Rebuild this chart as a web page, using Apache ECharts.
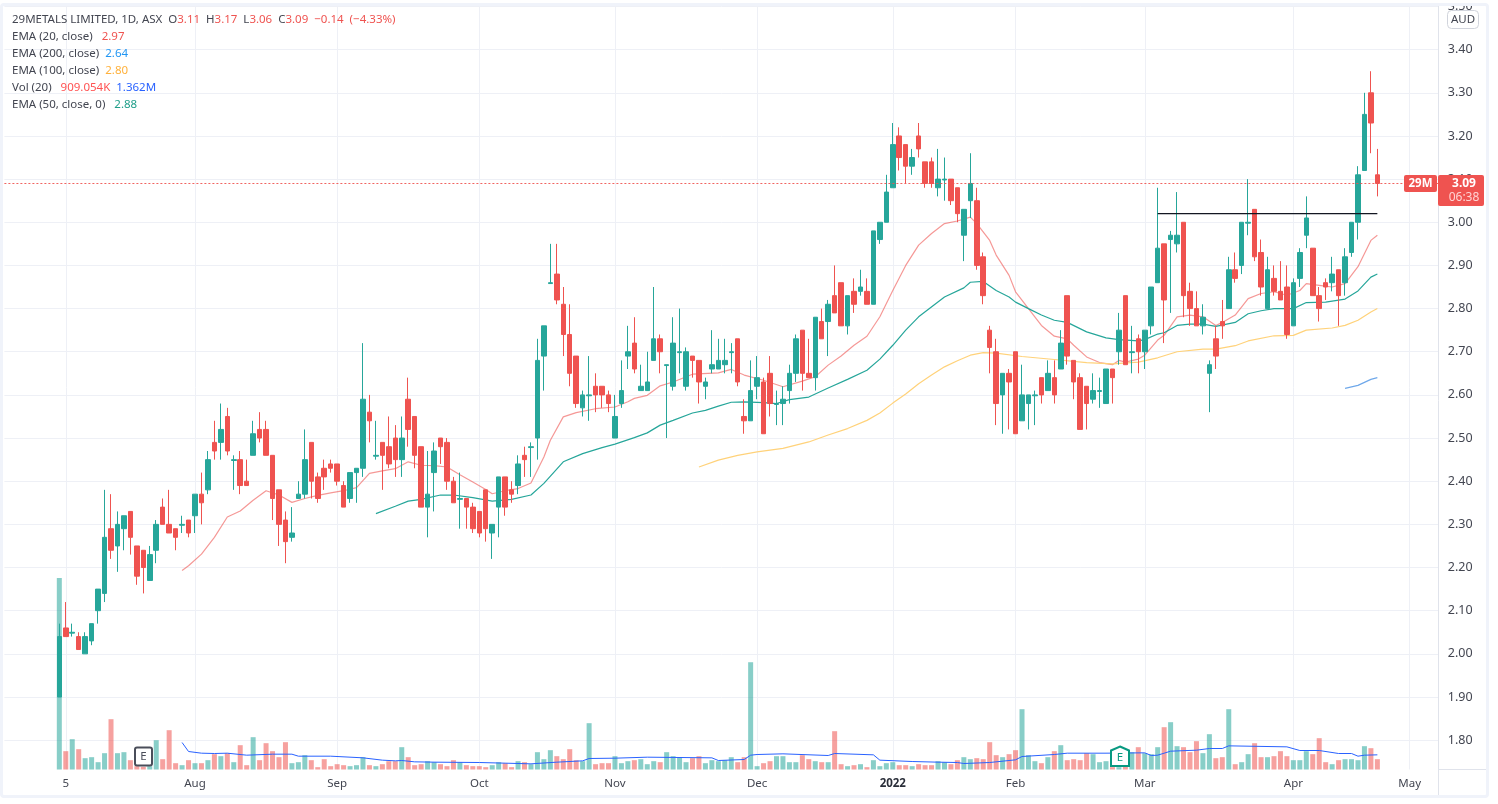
<!DOCTYPE html>
<html>
<head>
<meta charset="utf-8">
<title>29METALS LIMITED</title>
<style>
html,body{margin:0;padding:0;background:#fff;width:1498px;height:804px;overflow:hidden}
#chart{position:absolute;left:0;top:0;width:1498px;height:804px}
#frame{position:absolute;left:0;top:3px;width:1483px;height:789px;border:3px solid #f0f3fa;border-radius:4px;pointer-events:none}
#cover{position:absolute;left:0;top:0;width:1498px;height:3px;background:#fff;pointer-events:none}
</style>
<script src="https://cdn.jsdelivr.net/npm/echarts@6/dist/echarts.min.js"></script>
</head>
<body>
<div id="chart"></div>
<div id="cover"></div>
<div id="frame"></div>
<script>
const opens=[1.90,2.06,2.048,2.04,2.00,2.03,2.10,2.14,2.29,2.25,2.29,2.33,2.25,2.24,2.17,2.24,2.34,2.30,2.29,2.298,2.31,2.32,2.37,2.38,2.49,2.49,2.55,2.448,2.45,2.40,2.46,2.52,2.52,2.46,2.38,2.31,2.27,2.36,2.37,2.49,2.41,2.43,2.44,2.44,2.39,2.36,2.42,2.43,2.56,2.458,2.49,2.48,2.50,2.45,2.59,2.55,2.48,2.34,2.42,2.50,2.49,2.40,2.358,2.36,2.34,2.33,2.38,2.28,2.34,2.41,2.38,2.39,2.46,2.478,2.50,2.69,2.858,2.88,2.81,2.74,2.69,2.57,2.598,2.62,2.62,2.60,2.50,2.58,2.69,2.72,2.61,2.61,2.68,2.73,2.668,2.62,2.698,2.62,2.69,2.68,2.62,2.66,2.66,2.67,2.698,2.73,2.55,2.54,2.62,2.63,2.65,2.578,2.58,2.61,2.65,2.75,2.65,2.64,2.77,2.77,2.83,2.86,2.76,2.84,2.84,2.84,2.81,2.96,3.00,3.08,3.20,3.18,3.13,3.20,3.14,3.14,3.08,3.098,3.10,3.08,2.97,3.05,3.05,2.92,2.75,2.70,2.60,2.65,2.70,2.54,2.58,2.598,2.64,2.61,2.64,2.66,2.83,2.68,2.64,2.62,2.59,2.608,2.58,2.66,2.70,2.83,2.698,2.73,2.70,2.76,2.86,2.95,2.96,2.95,3.00,2.84,2.80,2.76,2.65,2.73,2.77,2.80,2.89,2.90,2.998,3.03,2.93,2.80,2.87,2.84,2.85,2.76,2.87,2.97,2.94,2.83,2.86,2.86,2.89,2.86,2.93,3.00,3.12,3.30,3.11];
const closes=[2.04,2.04,2.05,2.01,2.04,2.07,2.15,2.27,2.24,2.30,2.32,2.27,2.18,2.20,2.23,2.30,2.30,2.28,2.27,2.30,2.28,2.37,2.35,2.45,2.47,2.52,2.47,2.45,2.39,2.39,2.51,2.50,2.46,2.36,2.30,2.26,2.28,2.37,2.45,2.40,2.36,2.41,2.43,2.40,2.34,2.42,2.43,2.59,2.54,2.46,2.46,2.44,2.45,2.50,2.52,2.46,2.34,2.37,2.47,2.48,2.40,2.35,2.36,2.34,2.29,2.28,2.29,2.30,2.41,2.34,2.37,2.44,2.45,2.48,2.68,2.76,2.86,2.82,2.74,2.65,2.58,2.60,2.60,2.60,2.60,2.58,2.55,2.61,2.70,2.66,2.62,2.63,2.73,2.70,2.67,2.72,2.70,2.70,2.68,2.63,2.63,2.67,2.68,2.68,2.70,2.63,2.54,2.61,2.64,2.51,2.58,2.58,2.59,2.65,2.73,2.65,2.64,2.78,2.73,2.81,2.79,2.76,2.83,2.81,2.85,2.81,2.98,3.00,3.07,3.18,3.15,3.13,3.15,3.17,3.09,3.09,3.10,3.10,3.05,3.02,3.03,3.09,2.90,2.83,2.71,2.58,2.65,2.63,2.51,2.60,2.60,2.60,2.60,2.65,2.60,2.72,2.69,2.63,2.52,2.58,2.61,2.61,2.66,2.64,2.75,2.67,2.70,2.70,2.75,2.85,2.94,2.82,2.97,2.97,2.83,2.80,2.76,2.78,2.67,2.69,2.76,2.89,2.87,3.00,3.00,2.92,2.85,2.89,2.84,2.82,2.74,2.86,2.93,3.01,2.83,2.80,2.85,2.88,2.83,2.92,3.00,3.11,3.25,3.23,3.09];
const highs=[2.07,2.12,2.07,2.05,2.05,2.07,2.15,2.38,2.37,2.33,2.32,2.33,2.25,2.24,2.25,2.31,2.36,2.38,2.29,2.32,2.31,2.37,2.42,2.47,2.54,2.58,2.57,2.46,2.47,2.45,2.54,2.56,2.54,2.46,2.38,2.33,2.34,2.40,2.52,2.49,2.42,2.45,2.45,2.44,2.40,2.42,2.43,2.72,2.60,2.54,2.49,2.55,2.53,2.55,2.64,2.55,2.48,2.47,2.49,2.50,2.50,2.41,2.42,2.36,2.35,2.33,2.38,2.30,2.41,2.41,2.40,2.46,2.48,2.49,2.73,2.76,2.95,2.95,2.85,2.81,2.69,2.61,2.69,2.65,2.62,2.61,2.60,2.68,2.76,2.78,2.67,2.70,2.85,2.74,2.67,2.78,2.80,2.71,2.69,2.68,2.64,2.75,2.73,2.73,2.72,2.73,2.59,2.68,2.69,2.64,2.69,2.61,2.62,2.67,2.74,2.75,2.73,2.78,2.80,2.82,2.90,2.86,2.83,2.87,2.89,2.87,2.98,3.00,3.11,3.23,3.22,3.18,3.17,3.23,3.14,3.15,3.17,3.15,3.10,3.08,3.03,3.16,3.08,2.93,2.76,2.73,2.65,2.66,2.70,2.67,2.60,2.61,2.64,2.68,2.68,2.75,2.83,2.68,2.65,2.62,2.65,2.64,2.66,2.66,2.79,2.83,2.76,2.74,2.75,2.85,3.08,2.95,2.98,3.07,3.00,2.86,2.84,2.81,2.68,2.76,2.82,2.92,2.93,3.00,3.10,3.03,2.96,2.92,2.90,2.91,2.90,2.87,2.94,3.06,2.94,2.85,2.87,2.92,2.89,2.94,3.00,3.13,3.30,3.35,3.17];
const lows=[1.90,2.04,2.04,2.01,2.00,2.02,2.07,2.12,2.22,2.19,2.24,2.23,2.16,2.14,2.17,2.21,2.30,2.28,2.24,2.28,2.27,2.28,2.30,2.37,2.45,2.45,2.46,2.38,2.37,2.39,2.46,2.49,2.46,2.31,2.25,2.21,2.26,2.36,2.36,2.36,2.35,2.38,2.42,2.39,2.34,2.35,2.35,2.41,2.49,2.45,2.38,2.43,2.41,2.41,2.48,2.43,2.34,2.27,2.33,2.44,2.38,2.35,2.29,2.29,2.28,2.27,2.26,2.22,2.27,2.32,2.35,2.37,2.41,2.41,2.45,2.61,2.86,2.81,2.69,2.62,2.57,2.55,2.54,2.56,2.57,2.56,2.50,2.57,2.66,2.65,2.61,2.61,2.68,2.65,2.50,2.61,2.65,2.61,2.64,2.58,2.59,2.65,2.66,2.65,2.65,2.62,2.51,2.54,2.59,2.51,2.55,2.53,2.53,2.58,2.63,2.61,2.64,2.61,2.73,2.69,2.79,2.76,2.74,2.79,2.83,2.81,2.81,2.95,3.00,3.08,3.12,3.09,3.11,3.15,3.08,3.08,3.06,3.05,3.04,3.00,2.91,3.01,2.89,2.81,2.65,2.53,2.51,2.52,2.51,2.54,2.52,2.53,2.58,2.61,2.58,2.66,2.67,2.59,2.52,2.52,2.58,2.57,2.58,2.58,2.67,2.67,2.65,2.65,2.66,2.74,2.86,2.72,2.79,2.93,2.78,2.76,2.76,2.74,2.56,2.66,2.73,2.80,2.86,2.88,2.97,2.91,2.83,2.80,2.83,2.82,2.73,2.76,2.85,2.94,2.83,2.77,2.82,2.84,2.76,2.83,2.92,2.96,3.12,3.16,3.06];
// Volume, in lots of about 29.3K shares
const volumeLots=[575,55,91,61,34,37,22,49,151,49,52,28,10,8,10,88,31,118,19,13,28,19,19,28,46,40,49,22,73,13,97,28,79,55,37,82,19,22,43,28,7,31,10,16,13,10,13,37,13,10,16,25,25,67,37,13,16,25,22,16,10,28,22,13,10,10,7,13,22,19,7,25,22,16,52,31,58,40,31,61,28,25,139,16,19,19,40,19,25,28,31,16,25,22,52,40,37,22,34,40,19,28,25,28,37,22,37,322,10,19,25,40,40,22,22,43,31,25,22,22,115,16,10,13,16,7,28,10,19,22,13,13,10,16,13,13,25,22,16,28,37,31,34,31,82,43,37,46,58,181,43,25,19,37,55,73,28,31,28,49,46,22,25,7,7,8,52,67,49,46,67,127,142,70,67,52,85,49,106,34,37,181,16,22,46,79,37,37,40,55,40,28,28,55,46,94,22,16,28,31,31,28,70,64,31];
const volumeMA=[[19,81],[20,54],[22,49],[24,48],[26,49],[29,43],[33,46],[36,46],[37,40],[42,40],[47,35],[50,28],[52,26],[53,27],[55,23],[58,22],[65,21],[69,19],[73,17],[77,22],[81,26],[82,33],[86,34],[91,37],[101,35],[102,27],[106,30],[107,43],[108,45],[112,47],[119,42],[120,48],[126,44],[127,28],[132,24],[136,22],[139,21],[140,18],[144,21],[148,29],[149,39],[154,45],[156,49],[162,49],[168,50],[169,42],[170,43],[172,55],[176,58],[178,63],[180,63],[181,71],[190,68],[192,57],[195,57],[198,48],[200,48],[201,40],[202,43],[204,44]];
const ema20=[[19,2.193],[20,2.204],[22,2.231],[24,2.27],[26,2.317],[28,2.331],[30,2.356],[32,2.378],[34,2.368],[36,2.351],[38,2.36],[40,2.367],[42,2.373],[44,2.378],[46,2.385],[48,2.418],[50,2.424],[52,2.429],[54,2.445],[56,2.437],[58,2.436],[60,2.433],[62,2.415],[64,2.398],[66,2.381],[67,2.371],[69,2.378],[71,2.383],[73,2.396],[75,2.456],[76,2.495],[78,2.549],[80,2.559],[83,2.568],[86,2.572],[88,2.584],[89,2.592],[91,2.599],[93,2.621],[95,2.630],[98,2.648],[102,2.651],[104,2.659],[106,2.646],[109,2.634],[112,2.619],[115,2.632],[117,2.642],[119,2.669],[121,2.690],[123,2.715],[125,2.736],[127,2.781],[129,2.842],[131,2.900],[133,2.947],[135,2.974],[137,2.997],[139,3.003],[141,3.012],[142,2.997],[144,2.958],[145,2.924],[147,2.877],[148,2.839],[150,2.800],[152,2.761],[154,2.736],[156,2.730],[157,2.715],[159,2.688],[161,2.675],[163,2.670],[164,2.680],[165,2.676],[167,2.683],[168,2.692],[170,2.727],[171,2.738],[173,2.781],[175,2.785],[177,2.781],[179,2.761],[180,2.768],[182,2.785],[184,2.823],[186,2.835],[188,2.839],[190,2.831],[192,2.842],[193,2.858],[195,2.854],[197,2.850],[199,2.858],[201,2.897],[203,2.958],[204,2.97]];
const ema50=[[49,2.325],[52,2.342],[54,2.354],[56,2.358],[59,2.368],[61,2.368],[64,2.362],[67,2.354],[70,2.358],[73,2.368],[75,2.395],[78,2.445],[81,2.464],[84,2.478],[86,2.486],[89,2.501],[91,2.512],[93,2.530],[95,2.541],[98,2.558],[100,2.564],[102,2.574],[104,2.583],[106,2.584],[109,2.582],[111,2.580],[113,2.589],[116,2.595],[119,2.616],[122,2.636],[125,2.657],[127,2.683],[129,2.715],[131,2.750],[133,2.781],[137,2.827],[140,2.848],[141,2.861],[143,2.863],[145,2.842],[147,2.827],[148,2.815],[150,2.800],[152,2.785],[154,2.773],[156,2.768],[159,2.746],[162,2.732],[164,2.728],[167,2.725],[168,2.728],[170,2.741],[171,2.744],[173,2.761],[175,2.764],[177,2.764],[179,2.759],[182,2.768],[184,2.788],[186,2.795],[188,2.800],[191,2.800],[193,2.814],[196,2.815],[199,2.822],[201,2.841],[203,2.873],[204,2.88]];
const ema100=[[99,2.433],[102,2.449],[105,2.460],[108,2.468],[112,2.476],[116,2.491],[119,2.507],[122,2.522],[125,2.541],[127,2.558],[129,2.581],[131,2.602],[133,2.626],[135,2.646],[137,2.665],[139,2.679],[141,2.692],[143,2.698],[145,2.697],[149,2.689],[154,2.682],[159,2.675],[163,2.672],[167,2.676],[170,2.686],[173,2.700],[177,2.706],[179,2.706],[182,2.714],[184,2.725],[188,2.737],[191,2.738],[193,2.750],[197,2.755],[199,2.761],[201,2.773],[203,2.792],[204,2.80]];
const ema200=[[199,2.615],[201,2.622],[203,2.636],[204,2.64]];
const resistanceLine=[[170,3.02],[204,3.02]];
const lastPrice=3.09;
const tickIndex=[1,21,43,65,86,108,129,148,168,191,209];
const tickLabels=['5','Aug','Sep','Oct','Nov','Dec','2022','Feb','Mar','Apr','May'];
const priceTicks=[1.8,1.9,2.0,2.1,2.2,2.3,2.4,2.5,2.6,2.7,2.8,2.9,3.0,3.1,3.2,3.3,3.4,3.5];

const padL=8,padR=9,slots=padL+opens.length+padR;
const categories=new Array(slots).fill('');
tickIndex.forEach((t,k)=>{categories[t+padL]=tickLabels[k];});
const blankL=new Array(padL).fill('-'),blankR=new Array(padR).fill('-');
const candles=blankL.concat(opens.map((o,i)=>[o,closes[i],lows[i],highs[i]]),blankR);
const vols=blankL.concat(volumeLots,blankR);
const shift=a=>a.map(p=>[p[0]+padL,p[1]]);
const UP='#26a69a',DOWN='#ef5350',FONT='"Noto Sans",sans-serif',TXT='#434651';
const isTick=(i,v)=>v!=='';
const line=(name,data,color,y,w,z)=>({name,type:'line',data:shift(data),yAxisIndex:y,showSymbol:false,symbol:'none',silent:true,animation:false,lineStyle:{color,width:w||1},z:z||3});

const legendRows=[
 {y:20,parts:[['29METALS LIMITED, 1D, ASX  O',TXT],['3.11',DOWN],['  H',TXT],['3.17',DOWN],['  L',TXT],['3.06',DOWN],['  C',TXT],['3.09',DOWN],['  ',TXT],['−0.14',DOWN],['  (−4.33%)',DOWN]]},
 {y:37,parts:[['EMA (20, close)   ',TXT],['2.97',DOWN]]},
 {y:54,parts:[['EMA (200, close)  ',TXT],['2.64','#2196f3']]},
 {y:71,parts:[['EMA (100, close)  ',TXT],['2.80','#ffb13b']]},
 {y:87.5,parts:[['Vol (20)   ',TXT],['909.054K','#ff5252'],['  ',TXT],['1.362M','#2962ff']]},
 {y:105,parts:[['EMA (50, close, 0)   ',TXT],['2.88','#1f9e89']]}
];
const legendGraphics=legendRows.map(r=>{
 const rich={};
 const text=r.parts.map((p,k)=>{const key='k'+k;rich[key]={fill:p[1],fontSize:11.5,fontFamily:FONT};return '{'+key+'|'+p[0]+'}';}).join('');
 return {type:'text',x:12,y:r.y,z:50,silent:true,style:{text,rich,verticalAlign:'middle',font:'11.5px '+FONT}};
});
const rr=(x,y,w,h,fill,stroke,lw,r)=>({type:'rect',z:60,silent:true,shape:{x,y,width:w,height:h,r:r||0},style:{fill,stroke,lineWidth:lw||0}});
const tx=(x,y,t,fill,font,align)=>({type:'text',x,y,z:61,silent:true,style:{text:t,fill,font:font,align:align||'center',verticalAlign:'middle'}});
const ln=(x1,y1,x2,y2)=>({type:'line',z:40,silent:true,shape:{x1,y1,x2,y2},style:{stroke:'#e0e3eb',lineWidth:1}});

const chart=echarts.init(document.getElementById('chart'),null,{renderer:'canvas'});
chart.setOption({
 animation:false,backgroundColor:'#fff',
 grid:{left:4.4,width:slots*6.461,top:5,height:764.5,containLabel:false},
 xAxis:{type:'category',data:categories,boundaryGap:true,
  axisLine:{show:false},
  axisTick:{show:false,alignWithLabel:true,interval:isTick},
  splitLine:{show:true,alignWithLabel:true,interval:isTick,lineStyle:{color:'#eef0f6',width:1}},
  axisLabel:{interval:isTick,margin:8,color:TXT,fontFamily:FONT,fontSize:11.5,hideOverlap:false,
   formatter:v=>v==='2022'?'{b|2022}':v,rich:{b:{fontWeight:'bold',color:'#2a2e39',fontFamily:FONT,fontSize:11.5}}}},
 yAxis:[
  {type:'value',position:'right',min:1.732,max:3.5026,scale:true,
   axisLine:{show:false},axisTick:{show:false,customValues:priceTicks},
   splitLine:{show:true,lineStyle:{color:'#eef0f6',width:1}},
   axisLabel:{customValues:priceTicks,margin:9,color:TXT,fontFamily:FONT,fontSize:12.5,formatter:v=>v.toFixed(2)}},
  {type:'value',show:false,min:0,max:2293.5,splitLine:{show:false}}
 ],
 series:[
  {name:'Vol',type:'bar',yAxisIndex:1,data:vols,barWidth:5,silent:true,z:1,
   itemStyle:{color:p=>{const i=p.dataIndex-padL;return closes[i]>=opens[i]?'rgba(38,166,154,0.55)':'rgba(239,83,80,0.55)';}}},
  line('Vol MA',volumeMA,'#2962ff',1,1,2),
  line('EMA 20',ema20,'rgba(239,83,80,0.6)',0,1.2),
  line('EMA 50',ema50,'#26a69a',0,1.2),
  line('EMA 100',ema100,'#ffd27a',0,1.2),
  line('EMA 200',ema200,'#6fa8ea',0,1.2),
  {name:'Price',type:'candlestick',data:candles,barWidth:5,silent:true,z:4,
   itemStyle:{color:UP,color0:DOWN,borderColor:UP,borderColor0:DOWN,borderWidth:1},
   markLine:{silent:true,symbol:'none',label:{show:false},lineStyle:{color:DOWN,type:[2,2],width:1,opacity:0.9},data:[{yAxis:lastPrice}],animation:false}},
  line('Level',resistanceLine,'#131722',0,1.4,6)
 ],
 graphic:legendGraphics.concat([
  ln(1438.5,5,1438.5,796),ln(1438,769.5,1488,769.5),
  rr(1447.5,10.5,31,18,'#fff','#d1d4dc',1,4),
  tx(1463,20,'AUD',TXT,'11.5px '+FONT),
  rr(1404,175,33,17,DOWN,null,0,2),
  tx(1420.5,183.5,'29M','#fff','bold 11.5px '+FONT),
  rr(1438,175,46,31,DOWN,null,0,2),
  tx(1464,183.5,lastPrice.toFixed(2),'#fff','bold 12px '+FONT),
  tx(1464,197.5,'06:38','#ffd4d3','12px '+FONT),
  rr(135,747.5,17,18,'#fff','#4a4e5a',2,2),
  tx(143.5,757,'E','#4a4e5a','11.5px '+FONT),
  {type:'polygon',z:60,silent:true,shape:{points:[[1120,746.5],[1129,750.5],[1129,766],[1111,766],[1111,750.5]]},style:{fill:'#fff',stroke:'#089981',lineWidth:2}},
  tx(1120,757.5,'E','#089981','11.5px '+FONT)
 ])
});
</script>
</body>
</html>
